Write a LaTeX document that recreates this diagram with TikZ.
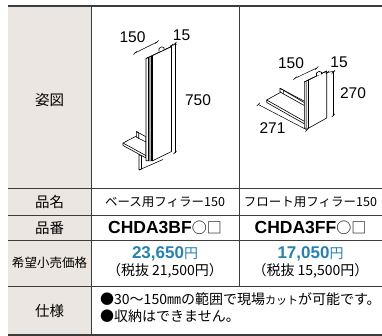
\documentclass[tikz,border=0pt]{standalone}
\usepackage{fontspec}
\setmainfont{Liberation Sans}
\newfontfamily\jp{Noto Sans CJK JP}
\definecolor{headgray}{HTML}{EBE6E2}
\definecolor{priceblue}{HTML}{2681B6}
\definecolor{rulegray}{HTML}{3C3C3C}
\definecolor{stripgray}{HTML}{8C8C8C}
\tikzset{
  part/.style={line width=0.6pt, fill=white, line join=round},
  dimline/.style={line width=0.5pt},
  dimlbl/.style={inner sep=0pt, font=\fontsize{15.5}{16}\selectfont},
  head/.style={inner sep=0pt, font=\jp\fontsize{14.5}{16}\selectfont},
  cell/.style={inner sep=0pt, font=\jp\fontsize{12.5}{14}\selectfont},
  code/.style={inner sep=0pt, font=\bfseries\fontsize{17.5}{18}\selectfont},
  price/.style={inner sep=0pt, text=priceblue, font=\bfseries\fontsize{17}{18}\selectfont},
  note/.style={inner sep=0pt, font=\jp\fontsize{14}{16}\selectfont},
}

\begin{document}
\begin{tikzpicture}[x=1pt,y=-1pt]
\useasboundingbox (0,0) rectangle (382,336);

% table
\fill[headgray] (8,6) rectangle (91.5,335);
\draw[rulegray, line width=1.3pt] (8,6) -- (382,6);
\draw[rulegray, line width=1.3pt] (8,335) -- (382,335);
\foreach \y in {188.5,215,240.7,286.7}
  \draw[rulegray, line width=0.8pt] (8,\y) -- (382,\y);
\draw[rulegray, line width=1pt] (91.5,6) -- (91.5,335);
\draw[rulegray, line width=0.8pt] (239,6) -- (239,286.7);

% left figure: base filler
\draw[part] (139,154.5) -- (139,170) -- (141.5,168.9) -- (141.5,155.9) -- cycle;
\draw[line width=0.6pt] (139,170) -- (163,159.5);
\draw[part] (123,143) -- (136.5,136) -- (146,141.2) -- (146,158) -- (123,145.5) -- cycle;
\draw[line width=0.6pt] (123,143) -- (146,155.6);
\draw[part] (136.3,131.5) -- (146,136.8) -- (146,142) -- (138.7,138.4) -- (136.3,137) -- cycle;
\draw[line width=0.6pt] (136.3,131.5) -- (138.7,132.8) -- (138.7,138.4);
\draw[part] (146,58.5) -- (165,49.5) -- (171.5,46.5) -- (171.5,151.5) -- (152.5,160.8) -- (146,160.8) -- cycle;
\fill[stripgray] (148.3,57.4) -- (150.7,56.3) -- (150.7,160.8) -- (148.3,160.8) -- cycle;
\draw[line width=0.6pt] (146,58.5) -- (152.5,55.5) -- (171.5,46.5);
\draw[line width=0.6pt] (152.5,55.5) -- (152.5,160.8);
\draw[line width=0.4pt] (148.3,57.4) -- (148.3,160.8);
\draw[line width=0.4pt] (150.7,56.3) -- (150.7,160.8);
\draw[part] (159,51.5) -- (159,48.5) -- (161.5,46.8) -- (164,47.6) -- (164,49.8);

% left figure: dimensions
\draw[dimline] (135,53) -- (157,42);
\draw[dimline] (170,46) -- (177,44);
\draw[dimline] (175,43) -- (175,153);
\foreach \p in {(135,53),(157,42),(171.5,45.6),(175,43.5),(175,152.5)}
  \draw[dimline] \p ++(-1.6,1.6) -- ++(3.2,-3.2);
\node[dimlbl] (wL) at (132.5,37) {150};
\node[dimlbl] (tL) at (181.5,35) {15};
\node[dimlbl] (hL) at (198,100) {750};

% right figure: float filler
\draw[part] (266.7,100) -- (281.7,91.7) -- (304.3,104.5) -- (304.3,123.8) -- (266.7,102.5) -- cycle;
\draw[line width=0.6pt] (266.7,100) -- (304.3,121.3);
\draw[part] (280,88.3) -- (304.3,101.2) -- (304.3,105.5) -- (283.3,93.8) -- (280,91.8) -- cycle;
\draw[line width=0.6pt] (280,88.3) -- (283.3,90.2) -- (283.3,93.8);
\draw[line width=0.6pt] (283.3,90.2) -- (304.3,102.6);
\draw[part] (304.3,82) -- (322.7,73) -- (326.7,71) -- (326.7,118) -- (308.3,128.3) -- (304.3,128.3) -- cycle;
\fill[stripgray] (305.6,81.4) -- (307.2,80.6) -- (307.2,128.3) -- (305.6,128.3) -- cycle;
\draw[line width=0.6pt] (304.3,82) -- (308.3,80) -- (326.7,71);
\draw[line width=0.6pt] (308.3,80) -- (308.3,128.3);
\draw[part] (316.5,75.8) -- (316.5,73) -- (319,71.4) -- (321.5,72.2) -- (321.5,74.5);

% right figure: dimensions
\draw[dimline] (295,78.3) -- (316.7,68);
\draw[dimline] (325,73) -- (335,71);
\draw[dimline] (333.3,72) -- (333.3,116);
\draw[dimline] (258.3,104.5) -- (307,130);
\foreach \p in {(295,78.3),(316.7,68),(327.5,72.4),(333.3,72),(333.3,115.5),(258.3,104.5),(307,130)}
  \draw[dimline] \p ++(-1.6,1.6) -- ++(3.2,-3.2);
\node[dimlbl] (wR) at (291,63) {150};
\node[dimlbl] (tR) at (339,62) {15};
\node[dimlbl] (hR) at (353,93) {270};
\node[dimlbl] (dR) at (272.5,128) {271};

% row heads
\node[head] (zu) at (49.5,100) {姿図};
\node[head] (mei) at (49.5,202) {品名};
\node[head] (ban) at (49.5,228) {品番};
\node[cell] (kakaku) at (49.5,263) {希望小売価格};
\node[head] (shiyo) at (49.5,311) {仕様};

% cells
\node[cell] (meiB) at (165,202) {ベース用フィラー150};
\node[cell] (meiF) at (310.5,202) {フロート用フィラー150};
\node[code] (banB) at (165,228) {CHDA3BF{\jp\mdseries\fontsize{15}{16}\selectfont ○□}};
\node[code] (banF) at (310.5,228) {CHDA3FF{\jp\mdseries\fontsize{15}{16}\selectfont ○□}};
\node[price] (priceB) at (165,254) {23,650{\jp\mdseries\fontsize{14}{16}\selectfont 円}};
\node[price] (priceF) at (310.5,254) {17,050{\jp\mdseries\fontsize{14}{16}\selectfont 円}};
\node[note] (taxB) at (165,271) {（税抜 21,500円）};
\node[note] (taxF) at (310.5,271) {（税抜 15,500円）};
\node[note, anchor=west] (spec1) at (100,299) {●30～150㎜の範囲で現場{\fontsize{11}{12}\selectfont カット}が可能です。};
\node[note, anchor=west] (spec2) at (100,316) {●収納はできません。};
\end{tikzpicture}
\end{document}
